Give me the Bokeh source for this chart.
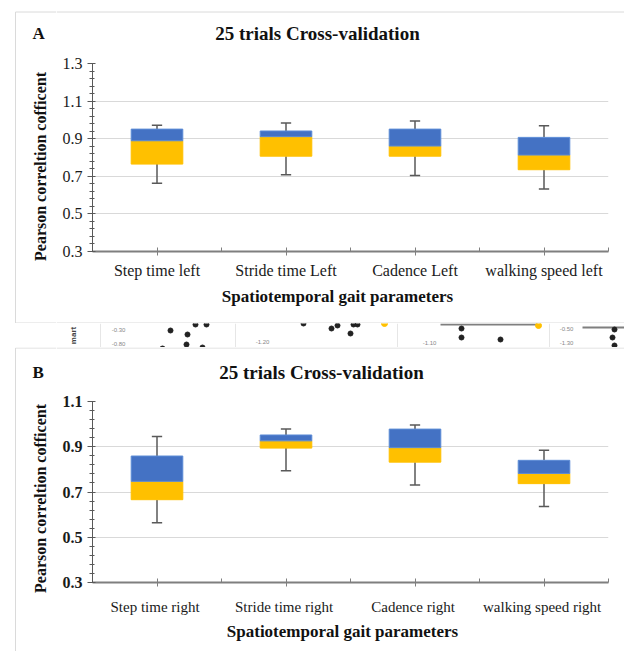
import numpy as np
from bokeh.plotting import figure
from bokeh.models import Range1d, FixedTicker
from bokeh.layouts import column, row
from bokeh.embed import file_html
from bokeh.resources import INLINE
from bokeh.core.properties import value

FONT = "Liberation Serif"
BLUE = "#4472C4"
ORANGE = "#FFC000"
WHISK = "#595959"
GRID = "#D9D9D9"
AXIS = "#7F7F7F"
FRAME = "#DADADA"
W = 624
LW = 56  # width of the left column holding the letter and y title

# ---------------- data ----------------
title_text = "25 trials Cross-validation"
x_title = "Spatiotemporal gait parameters"
y_title = "Pearson correltion cofficent"

cats_A = ["Step time left", "Stride time Left", "Cadence Left", "walking speed left"]
min_A = [0.663, 0.708, 0.704, 0.633]
q1_A = [0.765, 0.807, 0.807, 0.735]
med_A = [0.889, 0.911, 0.861, 0.813]
q3_A = [0.951, 0.941, 0.951, 0.907]
max_A = [0.971, 0.984, 0.994, 0.969]
yticks_A = [0.3, 0.5, 0.7, 0.9, 1.1, 1.3]

cats_B = ["Step time  right", "Stride time  right", "Cadence  right", "walking speed  right"]
min_B = [0.564, 0.794, 0.731, 0.636]
q1_B = [0.666, 0.894, 0.832, 0.737]
med_B = [0.747, 0.926, 0.896, 0.782]
q3_B = [0.859, 0.952, 0.978, 0.840]
max_B = [0.945, 0.979, 0.996, 0.884]
yticks_B = [0.3, 0.5, 0.7, 0.9, 1.1]

# cropped neighbouring figure strip (artifact between the panels)
strip_dot_x = [170, 187, 195, 206, 162, 186, 202, 303, 331, 337, 350, 353, 357, 461, 461, 500, 614, 612, 614]
strip_dot_y = [330, 334, 324, 324, 348, 344, 347, 323, 328, 325, 333, 324, 324, 328, 337, 339, 329, 337, 345]
strip_ydot_x = [384, 538]
strip_ydot_y = [323, 325]
strip_lab = ["-0.30", "-0.80", "-1.20", "-1.10", "-0.50", "-1.30"]
strip_lab_x = [118, 118, 262, 429, 566, 566]
strip_lab_y = [329, 343, 341, 342, 328, 342]
strip_div_x = [100, 235, 397, 549]
strip_line_x0 = [440, 582]
strip_line_x1 = [537, 624]
strip_line_y = [324, 327]

HAS_ALIGN = "frame_align" in figure.properties()


def blank(x0, x1, ytop, ybot, frame_x=None):
    """Annotation canvas in page pixel coordinates."""
    xr = Range1d(x0, x1)
    if not HAS_ALIGN and frame_x is not None:
        xr = Range1d(*frame_x)
    f = figure(width=x1 - x0, height=ybot - ytop, output_backend="svg", toolbar_location=None,
               x_range=xr, y_range=Range1d(ybot, ytop),
               min_border_left=0, min_border_right=0, min_border_top=0, min_border_bottom=0)
    if HAS_ALIGN:
        f.frame_align = False
    f.axis.visible = False
    f.grid.visible = False
    f.outline_line_color = None
    return f


def txt(f, x, y, t, size, align="center", angle=0.0, bold=True):
    f.text(x=[x], y=[y], text=[t], angle=angle, text_font=value(FONT), text_font_size=f"{size}px",
           text_font_style="bold" if bold else "normal", text_color="#111111",
           text_align=align, text_baseline="middle")


def main_fig(cats, vmin, q1, med, q3, vmax, yticks, frame_h, border_bottom, ytick_bold, cat_size, cat_standoff):
    ymin, ymax = yticks[0], yticks[-1]
    p = figure(width=W - LW, height=9 + frame_h + border_bottom, output_backend="svg", toolbar_location=None,
               x_range=Range1d(0, len(cats)), y_range=Range1d(ymin, ymax),
               min_border_left=92 - LW, min_border_right=16, min_border_top=9, min_border_bottom=border_bottom)
    p.outline_line_color = None

    x = np.arange(len(cats)) + 0.5
    vmin, q1, med, q3, vmax = map(np.array, (vmin, q1, med, q3, vmax))
    p.segment(x0=x, y0=vmin, x1=x, y1=q1, line_color=WHISK, line_width=1.5)
    p.segment(x0=x, y0=q3, x1=x, y1=vmax, line_color=WHISK, line_width=1.5)
    cw = 0.04
    p.segment(x0=x - cw, y0=vmax, x1=x + cw, y1=vmax, line_color=WHISK, line_width=1.5)
    p.segment(x0=x - cw, y0=vmin, x1=x + cw, y1=vmin, line_color=WHISK, line_width=1.5)
    p.vbar(x=x, width=0.4, bottom=q1, top=med, fill_color=ORANGE, line_color=ORANGE, line_width=1)
    p.vbar(x=x, width=0.4, bottom=med, top=q3, fill_color=BLUE, line_color="#5B8BD6", line_width=1)

    p.xaxis.ticker = FixedTicker(ticks=list(x), minor_ticks=list(np.arange(len(cats) + 1)))
    p.xaxis.major_label_overrides = {float(xx): c for xx, c in zip(x, cats)}
    p.xaxis.axis_line_color = AXIS
    p.xaxis.axis_line_width = 2
    p.xaxis.major_tick_line_color = AXIS
    p.xaxis.minor_tick_line_color = AXIS
    p.xaxis.major_tick_in = 4
    p.xaxis.major_tick_out = 4
    p.xaxis.minor_tick_in = 4
    p.xaxis.minor_tick_out = 0
    p.xaxis.major_label_standoff = cat_standoff
    p.xaxis.major_label_text_font = FONT
    p.xaxis.major_label_text_font_size = f"{cat_size}px"
    p.xaxis.major_label_text_color = "#1a1a1a"

    minor = [round(v, 2) for v in np.arange(ymin, ymax + 1e-9, 0.04)]
    p.yaxis.ticker = FixedTicker(ticks=yticks, minor_ticks=minor)
    p.yaxis.axis_line_color = WHISK
    p.yaxis.major_tick_line_color = WHISK
    p.yaxis.minor_tick_line_color = WHISK
    p.yaxis.major_tick_in = 3
    p.yaxis.major_tick_out = 5
    p.yaxis.minor_tick_in = 2
    p.yaxis.minor_tick_out = 3
    p.yaxis.major_label_standoff = 5
    p.yaxis.major_label_text_font = FONT
    p.yaxis.major_label_text_font_size = "16px"
    p.yaxis.major_label_text_font_style = "bold" if ytick_bold else "normal"
    p.yaxis.major_label_text_color = "#1a1a1a"

    p.xgrid.visible = False
    p.ygrid.ticker = FixedTicker(ticks=yticks)
    p.ygrid.grid_line_color = GRID
    return p


def panel(letter, data, yticks, ytick_bold, cat_size, cat_standoff, y0, frame_top, frame_bottom, border_bottom,
          y_end, border_top, bottom_line, title_xy, letter_y, ytitle_y, xtitle_xy):
    head_end = frame_top - 9
    main_end = frame_bottom + border_bottom
    # left column: frame line, panel letter, rotated y title
    lf = blank(0, LW, y0, y_end)
    ly1 = bottom_line if bottom_line is not None else y_end
    lf.segment(x0=[15, 15], y0=[border_top, border_top], x1=[15, LW], y1=[ly1, border_top],
               line_color=FRAME, line_width=1)
    if bottom_line is not None:
        lf.segment(x0=[15], y0=[bottom_line], x1=[LW], y1=[bottom_line], line_color=FRAME, line_width=1)
    txt(lf, 32, letter_y, letter, 17, align="left")
    txt(lf, 40, ytitle_y, y_title, 16, angle=np.pi / 2)
    # header with title
    h = blank(LW, W, y0, head_end, frame_x=(92, 608))
    h.segment(x0=[LW], y0=[border_top], x1=[W], y1=[border_top], line_color=FRAME, line_width=1)
    txt(h, title_xy[0], title_xy[1], title_text, 19)
    m = main_fig(*data, yticks, frame_bottom - frame_top, border_bottom, ytick_bold, cat_size, cat_standoff)
    # footer with x title
    ft = blank(LW, W, main_end, y_end, frame_x=(92, 608))
    if bottom_line is not None:
        ft.segment(x0=[LW], y0=[bottom_line], x1=[W], y1=[bottom_line], line_color=FRAME, line_width=1)
    txt(ft, xtitle_xy[0], xtitle_xy[1], x_title, 17)
    return row(lf, column(h, m, ft))


partA = panel("A", (cats_A, min_A, q1_A, med_A, q3_A, max_A), yticks_A, False, 16, 6,
              0, 63, 251, 30, 323, 11.5, 322.5, (317, 33), 33, 166, (337, 296))
partB = panel("B", (cats_B, min_B, q1_B, med_B, q3_B, max_B), yticks_B, True, 15, 12,
              347, 401, 582, 36, 651, 347.5, None, (321, 372), 372, 498, (342, 631))

# strip with the cropped neighbouring figure
s = blank(0, W, 323, 347)
s.segment(x0=strip_div_x, y0=[323] * 4, x1=strip_div_x, y1=[347] * 4, line_color="#E6E6E6", line_width=1)
s.segment(x0=strip_line_x0, y0=strip_line_y, x1=strip_line_x1, y1=strip_line_y, line_color="#7F7F7F", line_width=2)
s.scatter(strip_dot_x, strip_dot_y, size=5, color="#222222")
s.scatter(strip_ydot_x, strip_ydot_y, size=6, color=ORANGE)
s.text(x=strip_lab_x, y=strip_lab_y, text=strip_lab, text_font=value("Liberation Sans"), text_font_size="6px",
       text_color="#888888", text_align="center", text_baseline="middle")
s.text(x=[73], y=[335], text=["mart"], angle=np.pi / 2, text_font=value("Liberation Sans"), text_font_size="8px",
       text_font_style="bold", text_color="#444444", text_align="center", text_baseline="middle")

layout = column(partA, s, partB, spacing=0)
open("out.html", "w").write(file_html(layout, INLINE))
